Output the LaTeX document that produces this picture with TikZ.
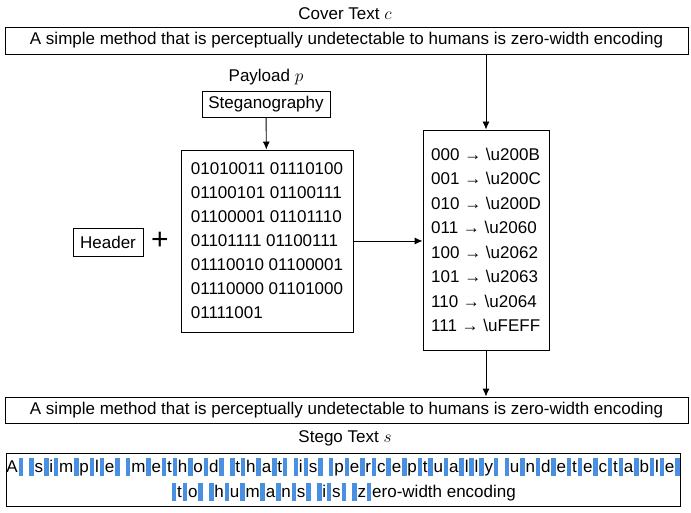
\documentclass[tikz,border=0pt]{standalone}
\usepackage{fontspec}
\setmainfont{Liberation Sans}
\usetikzlibrary{arrows.meta}
\definecolor{zwblue}{RGB}{74,144,226}
\newcommand\zw{\kern0.8pt\textcolor{zwblue}{\rule[-4pt]{4.5pt}{18pt}}\kern0.8pt}
\newcommand\bs{\textbackslash}
\begin{document}
\begin{tikzpicture}[x=1pt,y=-1pt,
  box/.style={draw,line width=0.9pt,inner sep=0pt},
  lab/.style={font=\fontsize{17}{20}\selectfont},
  arr/.style={-{Latex[length=8pt,width=7pt]},line width=0.9pt}]
\useasboundingbox (0,0) rectangle (691,513);
\node[lab] (ct) at (345,14) {Cover Text $c$};
\node[box,lab,minimum width=683pt,minimum height=27pt] (top) at (346.5,40.5) {A simple method that is perceptually undetectable to humans is zero-width encoding};
\node[lab] (pl) at (266,77) {Payload $p$};
\node[box,lab,minimum width=128pt,minimum height=26pt] (st) at (266,104) {Steganography};
\node[box,lab,minimum width=172pt,minimum height=182pt,align=left,font=\fontsize{17}{24}\selectfont] (bin) at (267,241) {01010011 01110100\\01100101 01100111\\01100001 01101110\\01101111 01100111\\01110010 01100001\\01110000 01101000\\01111001};
\node[box,lab,minimum width=70pt,minimum height=28pt] (hd) at (108,242) {Header};
\node[font=\fontsize{30}{30}\selectfont] (pl2) at (160,241) {+};
\node[box,lab,minimum width=126pt,minimum height=220pt,align=left,font=\fontsize{17}{24.5}\selectfont] (map) at (486,240) {000 → \bs u200B\\001 → \bs u200C\\010 → \bs u200D\\011 → \bs u2060\\100 → \bs u2062\\101 → \bs u2063\\110 → \bs u2064\\111 → \bs uFEFF};
\node[box,lab,minimum width=683pt,minimum height=26pt] (out) at (346.5,410) {A simple method that is perceptually undetectable to humans is zero-width encoding};
\node[lab] (sl) at (345,438) {Stego Text $s$};
\node[box,lab,minimum width=653pt,minimum height=53pt,align=center,font=\fontsize{17}{25}\selectfont] (sb) at (343.5,479.5) {%
A\zw{} \zw s\zw i\zw m\zw p\zw l\zw e\zw{} \zw m\zw e\zw t\zw h\zw o\zw d\zw{} \zw t\zw h\zw a\zw t\zw{} \zw i\zw s\zw{} \zw p\zw e\zw r\zw c\zw e\zw p\zw t\zw u\zw a\zw l\zw l\zw y\zw{} \zw u\zw n\zw d\zw e\zw t\zw e\zw c\zw t\zw a\zw b\zw l\zw e\zw\\
\zw t\zw o\zw{} \zw h\zw u\zw m\zw a\zw n\zw s\zw{} \zw i\zw s\zw{} \zw z\zw ero-width encoding};
\draw[arr] (top.south -| map) -- (map.north);
\draw[arr] (st) -- (bin);
\draw[arr] (bin.east) -- (map.west |- bin.east);
\draw[arr] (map.south) -- (out.north -| map);
\end{tikzpicture}
\end{document}
